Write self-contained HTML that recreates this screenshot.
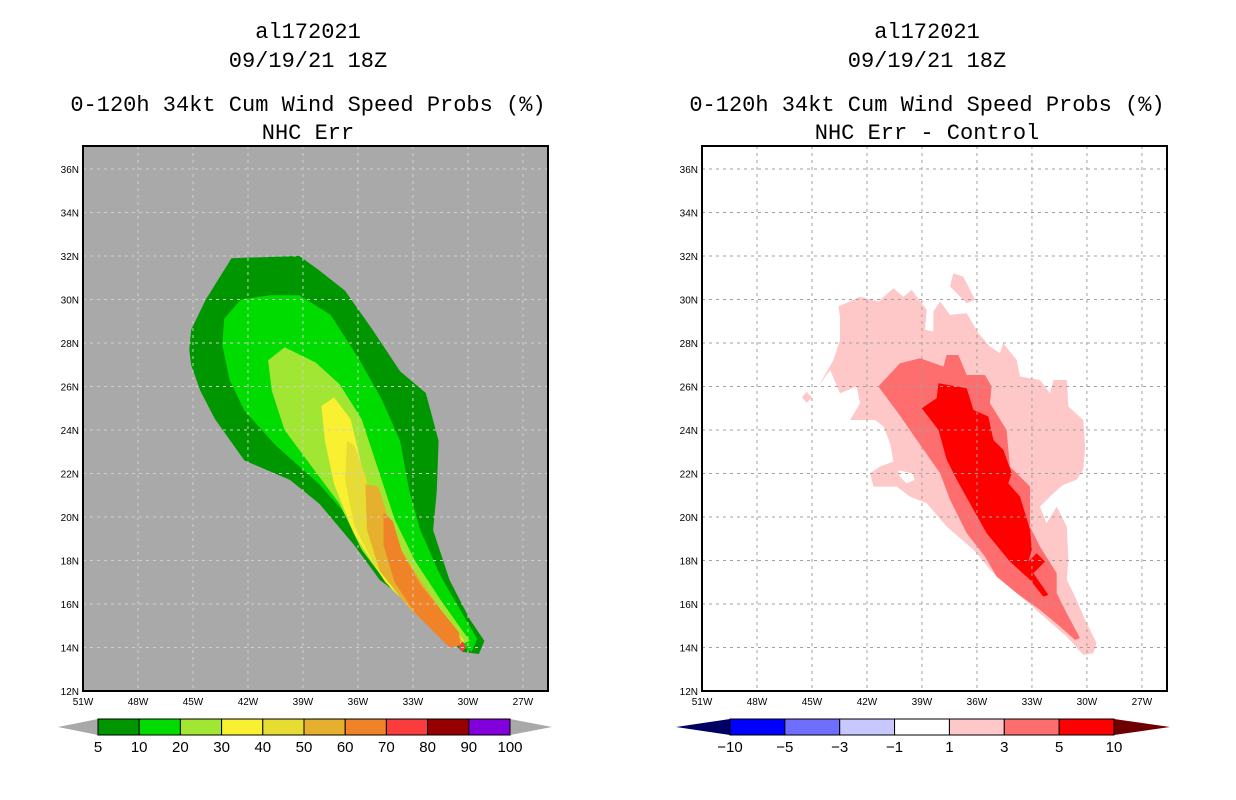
<!DOCTYPE html>
<html><head><meta charset="utf-8"><style>
body{margin:0;background:#fff;width:1236px;height:800px;overflow:hidden}
svg{display:block}
.t{font-family:"Liberation Mono",monospace;font-size:22px;text-anchor:middle;fill:#000}
.tk{font-family:"Liberation Sans",sans-serif;font-size:10px;fill:#000}
.cb{font-family:"Liberation Sans",sans-serif;font-size:15px;text-anchor:middle;fill:#000}
</style></head><body>
<svg id="s" width="1236" height="800">
<text class="t" x="308" y="38">al172021</text>
<text class="t" x="308" y="67">09/19/21 18Z</text>
<text class="t" x="308" y="111">0-120h 34kt Cum Wind Speed Probs (%)</text>
<text class="t" x="308" y="139">NHC Err</text>
<text class="t" x="927" y="38">al172021</text>
<text class="t" x="927" y="67">09/19/21 18Z</text>
<text class="t" x="927" y="111">0-120h 34kt Cum Wind Speed Probs (%)</text>
<text class="t" x="927" y="139">NHC Err - Control</text>
</svg>
<script>
// ---- data ----
const lonTicks=[-51,-48,-45,-42,-39,-36,-33,-30,-27];
const lonLabels=["51W","48W","45W","42W","39W","36W","33W","30W","27W"];
const latTicks=[12,14,16,18,20,22,24,26,28,30,32,34,36];
const latLabels=["12N","14N","16N","18N","20N","22N","24N","26N","28N","30N","32N","34N","36N"];
const probLevels=["5","10","20","30","40","50","60","70","80","90","100"];
const probColors=["#009600","#00dc00","#a0e632","#faf032","#e6dc32","#e6af2d","#f08228","#fa3c3c","#960000","#8200dc"];
const diffLevels=["-10","-5","-3","-1","1","3","5","10"];
const diffColors=["#0000ff","#6e6eff","#c8c8ff","#ffffff","#ffc8c8","#ff6e6e","#ff0000"];
const p5=[[-45.2,27.7],[-45.1,28.6],[-44.3,30.0],[-42.9,31.9],[-39.2,32.0],[-38.2,31.4],[-36.7,30.4],[-35.2,28.6],[-33.7,26.7],[-32.3,25.7],[-31.6,23.5],[-31.7,21.2],[-31.9,19.4],[-31.0,17.1],[-29.9,15.3],[-29.1,14.3],[-29.4,13.7],[-30.3,13.8],[-32.1,15.3],[-33.4,16.2],[-34.8,17.1],[-36.2,18.7],[-38.1,20.6],[-39.7,21.7],[-42.2,22.6],[-43.8,24.5],[-44.6,25.8],[-45.1,27.0]];
const p10=[[-43.3,29.1],[-42.4,30.0],[-40.8,30.2],[-39.2,30.2],[-37.5,29.3],[-35.9,27.2],[-34.7,25.4],[-33.7,23.5],[-33.2,21.2],[-32.6,19.4],[-31.5,17.3],[-30.4,15.7],[-29.5,14.4],[-29.8,13.8],[-30.7,14.3],[-32.6,16.0],[-34.3,17.6],[-35.9,19.4],[-38.1,21.5],[-40.5,23.3],[-42.2,24.9],[-43.0,26.3],[-43.4,27.9]];
const p20=[[-40.9,27.2],[-40.0,27.8],[-38.3,27.1],[-37.0,26.1],[-35.8,24.5],[-34.9,22.2],[-34.0,19.9],[-32.9,18.0],[-31.5,16.2],[-29.9,14.3],[-30.5,14.1],[-32.3,15.3],[-34.1,16.6],[-35.8,18.5],[-37.0,20.6],[-38.6,22.4],[-40.0,24.0],[-40.7,25.8]];
const p30=[[-38.0,25.1],[-37.3,25.5],[-36.4,24.5],[-36.0,23.1],[-35.5,21.2],[-34.8,19.6],[-33.8,18.0],[-32.3,16.2],[-30.2,14.3],[-30.7,14.1],[-32.6,15.4],[-34.5,17.0],[-36.2,19.2],[-37.3,21.5],[-37.8,23.5]];
const p40=[[-36.6,23.5],[-36.2,23.3],[-35.6,21.9],[-35.2,20.3],[-34.3,18.5],[-32.6,16.6],[-30.3,14.3],[-31.1,14.3],[-33.3,16.0],[-35.1,17.8],[-36.2,19.6],[-36.7,21.7]];
const p50=[[-35.6,21.5],[-34.9,21.4],[-34.4,20.1],[-33.8,18.7],[-32.6,17.1],[-30.3,14.3],[-31.0,14.1],[-33.2,15.8],[-34.8,17.5],[-35.5,19.4]];
const p60=[[-34.6,20.2],[-34.1,19.8],[-33.6,18.4],[-32.6,16.9],[-30.5,14.7],[-30.4,14.1],[-31.0,14.0],[-32.9,15.6],[-34.0,17.0],[-34.6,18.7]];
const p70=[[-30.3,14.3],[-30.1,14.0],[-30.3,13.8],[-30.5,14.0]];
const d1=[[-43.56,29.68],[-42.38,30.13],[-41.38,29.91],[-40.56,30.52],[-40.01,30.13],[-39.56,30.44],[-38.74,29.52],[-38.83,28.60],[-38.38,28.53],[-38.38,29.44],[-38.01,29.91],[-37.47,29.29],[-36.56,29.37],[-35.92,28.45],[-35.29,27.84],[-34.74,27.53],[-34.56,27.99],[-33.83,27.22],[-33.65,26.46],[-32.56,26.30],[-32.01,25.69],[-31.83,26.30],[-31.10,26.30],[-31.01,25.08],[-30.20,24.46],[-30.10,23.24],[-30.20,22.17],[-30.56,21.71],[-31.29,21.48],[-31.83,21.09],[-32.56,20.48],[-32.20,19.71],[-31.65,20.48],[-31.10,19.56],[-31.01,18.03],[-31.10,17.11],[-30.74,16.50],[-30.01,15.12],[-29.47,14.20],[-29.65,13.74],[-30.20,13.66],[-31.10,14.50],[-32.56,15.57],[-33.83,16.50],[-35.10,17.41],[-36.19,18.49],[-37.65,19.56],[-38.74,20.63],[-39.65,20.94],[-40.38,21.40],[-41.65,21.40],[-41.83,22.01],[-41.29,22.32],[-40.56,22.55],[-40.74,23.39],[-41.10,24.16],[-41.56,24.46],[-42.92,24.46],[-42.38,25.23],[-42.56,26.00],[-43.47,25.69],[-44.01,26.76],[-44.65,26.00],[-43.83,27.22],[-43.47,28.14],[-43.47,29.22]];
const d1b=[[-37.29,31.21],[-36.74,31.05],[-36.10,29.98],[-36.56,29.83],[-37.47,30.60]];
const d1c=[[-45.29,25.75],[-45.0,25.5],[-45.29,25.25],[-45.55,25.5]];
const d1hole=[[-40.3,22.15],[-39.5,22.0],[-39.4,21.7],[-39.85,21.55],[-40.2,21.85]];
const d3=[[-41.38,26.00],[-40.20,27.07],[-39.10,27.30],[-37.83,26.92],[-37.65,27.45],[-37.01,27.45],[-36.56,26.53],[-35.56,26.53],[-35.20,26.00],[-35.29,25.23],[-34.38,24.00],[-34.20,22.32],[-33.10,21.40],[-33.10,19.56],[-32.56,18.64],[-31.65,17.41],[-31.65,16.50],[-31.10,15.57],[-30.38,14.43],[-30.65,14.35],[-31.47,14.96],[-32.56,15.73],[-33.83,16.50],[-34.92,17.26],[-35.56,18.18],[-36.56,19.25],[-37.47,20.79],[-38.01,22.01],[-39.29,23.55],[-40.29,24.77]];
const d5=[[-39.01,25.00],[-38.20,25.46],[-38.10,26.15],[-36.56,25.92],[-36.19,24.92],[-35.38,24.62],[-35.10,23.54],[-34.56,23.09],[-34.10,22.01],[-34.29,21.55],[-33.65,20.94],[-33.10,19.41],[-33.01,18.49],[-33.20,17.95],[-32.74,18.33],[-32.29,17.95],[-32.92,17.41],[-32.10,16.42],[-32.38,16.34],[-33.10,17.11],[-34.20,17.95],[-35.47,19.25],[-36.19,20.33],[-37.10,21.71],[-37.65,22.63],[-38.10,24.00]];

// ---- drawing ----
const NS="http://www.w3.org/2000/svg";
const svg=document.getElementById('s');
function mk(tag,attrs,parent){const e=document.createElementNS(NS,tag);for(const k in attrs)e.setAttribute(k,attrs[k]);(parent||svg).appendChild(e);return e;}
const Y0=146,Y1=691;
function yScale(lat){return 691-(lat-12)*21.75;}
function makePanel(x0){
  return {x0:x0,x1:x0+465,xs:lon=>x0+(lon+51)*18.33};
}
const L=makePanel(83), R=makePanel(702);
function pts(p,arr){return arr.map(d=>p.xs(d[0]).toFixed(1)+','+yScale(d[1]).toFixed(1)).join(' ');}

function drawPanel(p,bg,gridColor,polys,name){
  const g=mk('g',{});
  
  
  const r=mk('rect',{x:p.x0,y:Y0,width:p.x1-p.x0,height:Y1-Y0,fill:bg},g);
  
  
  polys.forEach(pp=>{
    const e=mk('polygon',{points:pts(p,pp.d),fill:pp.c},g);
    
    
  });
  lonTicks.forEach((lon,i)=>{
    const x=p.xs(lon);
    if(i>0){const l=mk('line',{x1:x,x2:x,y1:Y0,y2:Y1,stroke:gridColor,'stroke-width':1,'stroke-dasharray':'3,4'},g);
      
      }
    const t=mk('text',{x:x,y:Y1+14,class:'tk','text-anchor':'middle'},g);t.textContent=lonLabels[i];
    
    
  });
  latTicks.forEach((lat,i)=>{
    const y=yScale(lat);
    if(i>0){const l=mk('line',{x1:p.x0,x2:p.x1,y1:y,y2:y,stroke:gridColor,'stroke-width':1,'stroke-dasharray':'3,4'},g);
      
      }
    const t=mk('text',{x:p.x0-4,y:y+4,class:'tk','text-anchor':'end'},g);t.textContent=latLabels[i];
    
    
  });
  const f=mk('rect',{x:p.x0,y:Y0,width:p.x1-p.x0,height:Y1-Y0,fill:'none',stroke:'#000','stroke-width':2},g);
  
  
}
drawPanel(L,'#a9a9a9','#cfcfcf',[
 {d:p5,c:probColors[0],n:'prob-5-contour'},{d:p10,c:probColors[1],n:'prob-10-contour'},
 {d:p20,c:probColors[2],n:'prob-20-contour'},{d:p30,c:probColors[3],n:'prob-30-contour'},
 {d:p40,c:probColors[4],n:'prob-40-contour'},{d:p50,c:probColors[5],n:'prob-50-contour'},
 {d:p60,c:probColors[6],n:'prob-60-contour'},{d:p70,c:probColors[7],n:'prob-70-contour'}],'left');
drawPanel(R,'#ffffff','#a0a0a0',[
 {d:d1,c:diffColors[4],n:'diff-1-contour'},{d:d1b,c:diffColors[4],n:'diff-1-island'},
 {d:d1c,c:diffColors[4],n:'diff-1-island'},{d:d1hole,c:'#ffffff',n:'diff-1-hole'},
 {d:d3,c:diffColors[5],n:'diff-3-contour'},{d:d5,c:diffColors[6],n:'diff-5-contour'}],'right');

function colorbar(xStart,xEnd,tipL,tipR,colors,labels,lowTri,highTri,name){
  const g=mk('g',{});
  
  
  const y0=719,y1=735,w=(xEnd-xStart)/colors.length;
  const a=mk('polygon',{points:`${tipL},${(y0+y1)/2} ${xStart},${y0} ${xStart},${y1}`,fill:lowTri},g);
  
  
  const b=mk('polygon',{points:`${tipR},${(y0+y1)/2} ${xEnd},${y0} ${xEnd},${y1}`,fill:highTri},g);
  
  
  colors.forEach((c,i)=>{
    const r=mk('rect',{x:xStart+i*w,y:y0,width:w,height:y1-y0,fill:c,stroke:'#000','stroke-width':1},g);
    
    
  });
  labels.forEach((l,i)=>{
    const t=mk('text',{x:xStart+i*w,y:752,class:'cb'},g);t.textContent=l.replace('-','\u2212');
    
    
  });
}
colorbar(98,510,58,552,probColors,probLevels,'#a9a9a9','#a9a9a9','left-colorbar');
colorbar(730,1114,676,1170,diffColors,diffLevels,'#000064','#6e0000','right-colorbar');
</script>
</body></html>
